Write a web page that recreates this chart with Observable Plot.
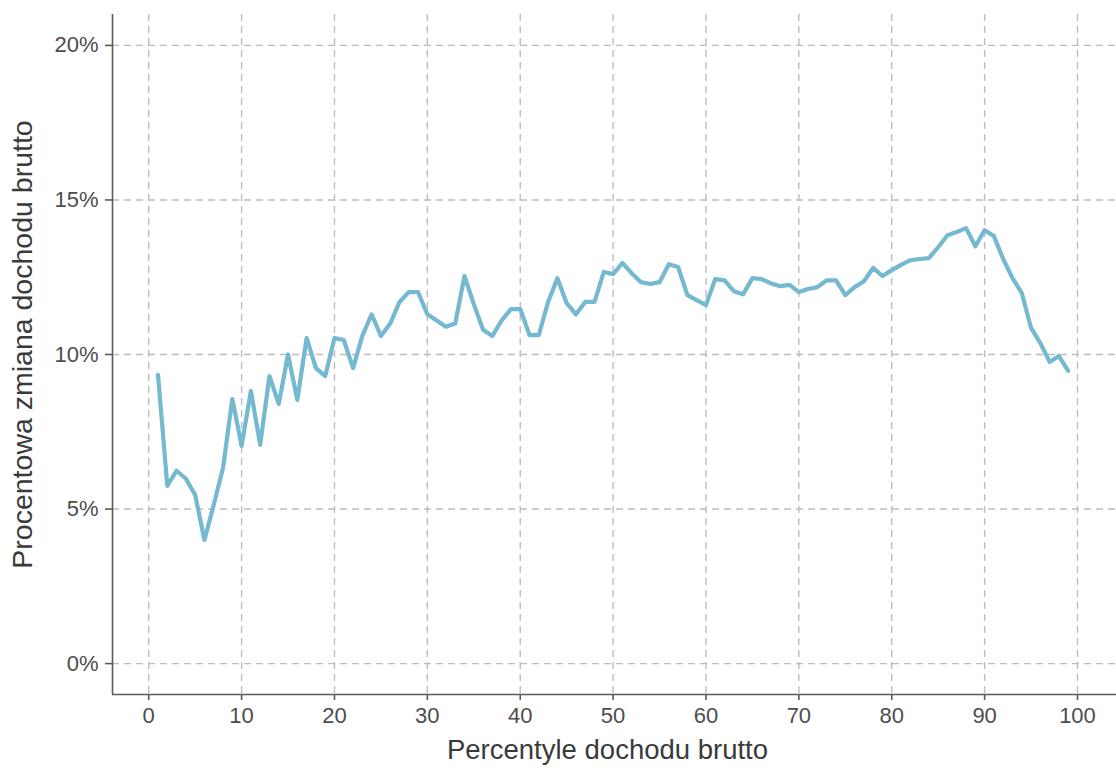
<!DOCTYPE html>
<html><head><meta charset="utf-8">
<script src="https://cdn.jsdelivr.net/npm/d3@7"></script>
<script src="https://cdn.jsdelivr.net/npm/@observablehq/plot@0.6"></script>
<style>
html,body{margin:0;padding:0;background:#fff;}
svg{font-family:"Liberation Sans",Arial,sans-serif;}
</style></head>
<body><div id="chart"></div>
<script>
const percentiles = d3.range(1, 100);
const values = [9.34,5.75,6.24,5.98,5.46,4.0,5.14,6.33,8.56,7.04,
8.82,7.08,9.3,8.4,10.0,8.53,10.53,9.56,9.3,10.53,
10.47,9.56,10.6,11.3,10.6,11.0,11.7,12.02,12.02,11.3,
11.1,10.9,11.0,12.54,11.63,10.8,10.6,11.1,11.47,11.47,
10.63,10.63,11.7,12.47,11.66,11.3,11.7,11.7,12.67,12.6,
12.96,12.63,12.34,12.28,12.34,12.92,12.83,11.92,11.76,11.6,
12.44,12.4,12.05,11.95,12.47,12.44,12.3,12.21,12.25,12.02,
12.12,12.18,12.4,12.4,11.92,12.18,12.37,12.8,12.54,12.73,
12.9,13.05,13.09,13.12,13.47,13.86,13.96,14.09,13.5,14.02,
13.83,13.09,12.47,11.99,10.86,10.37,9.76,9.95,9.47];
const xTicks = [0,10,20,30,40,50,60,70,80,90,100];
const yTicks = [0,5,10,15,20];
const xTitle = "Percentyle dochodu brutto";
const yTitle = "Procentowa zmiana dochodu brutto";

const data = percentiles.map((p, i) => ({p, v: values[i]}));
const xDomain = [-3.9, 104.2];
const yDomain = [-1, 21];
const gridStyle = {stroke: "#bdbdbd", strokeWidth: 1.4, strokeDasharray: "7,5"};

const chart = Plot.plot({
  width: 1116, height: 773,
  marginLeft: 112, marginRight: 0, marginTop: 14, marginBottom: 79,
  style: {fontFamily: "'Liberation Sans', Arial, sans-serif", background: "#fff", fontSize: "22px"},
  x: {domain: xDomain},
  y: {domain: yDomain},
  marks: [
    Plot.ruleY(yTicks, {y: d => d, ...gridStyle}),
    Plot.ruleX(xTicks, {x: d => d, ...gridStyle}),
    Plot.ruleX([xDomain[0]], {stroke: "#5a5a5a", strokeWidth: 1.6}),
    Plot.ruleY([yDomain[0]], {stroke: "#5a5a5a", strokeWidth: 1.6}),
    Plot.axisX({ticks: xTicks, tickSize: 6, tickPadding: 7, fontSize: 22, color: "#4d4d4d", stroke: "#5a5a5a", strokeWidth: 1.6, label: null}),
    Plot.axisY({ticks: yTicks, tickSize: 7, tickPadding: 7, fontSize: 22, color: "#4d4d4d", stroke: "#5a5a5a", strokeWidth: 1.6, tickFormat: d => d + "%", label: null}),
    Plot.text([xTitle], {frameAnchor: "bottom", dy: 64, dx: -7, fontSize: 27.5, fill: "#3a3a3a", text: d => d}),
    Plot.text([yTitle], {frameAnchor: "left", textAnchor: "middle", dx: -90, dy: -10, rotate: -90, fontSize: 28.5, fill: "#3a3a3a", text: d => d}),
    Plot.line(data, {x: "p", y: "v", stroke: "#74b9d0", strokeWidth: 4.2, strokeLinejoin: "round"})
  ]
});
document.getElementById("chart").appendChild(chart);
</script></body></html>
